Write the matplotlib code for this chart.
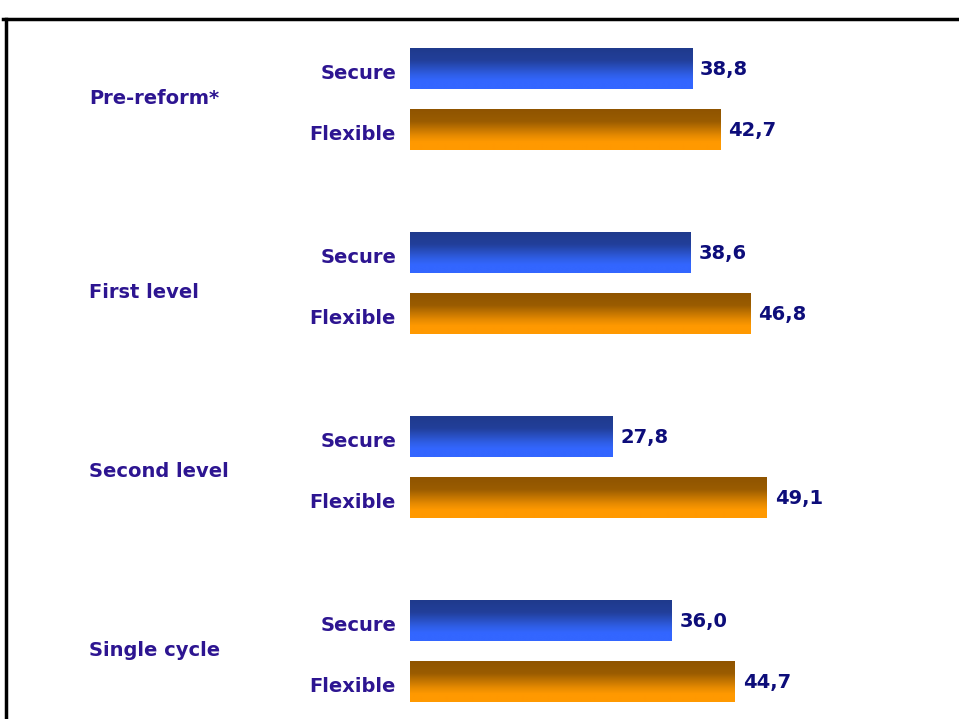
import numpy as np
import matplotlib
matplotlib.use("Agg")
import matplotlib.pyplot as plt
from matplotlib.colors import LinearSegmentedColormap
from matplotlib.transforms import blended_transform_factory
from matplotlib.lines import Line2D

categories = ["Pre-reform*", "First level", "Second level", "Single cycle"]
series = ["Secure", "Flexible"]
secure = [38.8, 38.6, 27.8, 36.0]
flexible = [42.7, 46.8, 49.1, 44.7]
value_labels_secure = ["38,8", "38,6", "27,8", "36,0"]
value_labels_flexible = ["42,7", "46,8", "49,1", "44,7"]

W, H = 959, 719
fig = plt.figure(figsize=(W / 100, H / 100), dpi=100)
fig.patch.set_facecolor("white")

ax_left = 410 / W
ax = fig.add_axes([ax_left, 0, 1 - ax_left, 1])
pitch = 61.0
top_center = 68.5
ax.axis("off")

group_step = 184.0 / pitch
bar_h = 41.0 / pitch

blue_cmap = LinearSegmentedColormap.from_list(
    "b", [(0, "#1f3a8c"), (0.3, "#223f9a"), (0.65, "#2f5ee6"), (0.8, "#3366ff"), (1, "#3366ff")])
orange_cmap = LinearSegmentedColormap.from_list(
    "o", [(0, "#8f5400"), (0.3, "#9a5c00"), (0.65, "#e68a00"), (0.8, "#ff9900"), (1, "#ff9900")])

grad = np.linspace(0, 1, 256).reshape(-1, 1)

label_color = "#2d1591"
value_color = "#0d0d7a"
tr = blended_transform_factory(fig.transFigure, ax.transData)
cat_offsets = [0.0, 0.155, 0.08, 0.0]

for i, cat in enumerate(categories):
    ys = i * group_step
    yf = ys + 1
    for y, val, lab, cmap, sname in [
        (ys, secure[i], value_labels_secure[i], blue_cmap, series[0]),
        (yf, flexible[i], value_labels_flexible[i], orange_cmap, series[1]),
    ]:
        bars = ax.barh([y], [val], height=bar_h, color="none", edgecolor="none")
        b = bars[0]
        x0, y0 = b.get_x(), b.get_y()
        w, h = b.get_width(), b.get_height()
        im = ax.imshow(grad, cmap=cmap, aspect="auto",
                       extent=[x0, x0 + w, y0 + h, y0], interpolation="bilinear", zorder=2)
        im.set_clip_path(b)
        ax.text(x0 + w + 1.1, y + 0.02, lab, ha="left", va="center", fontsize=14,
                fontweight="bold", color=value_color)
        ax.text(396 / W, y + 0.09, sname, transform=tr, ha="right", va="center",
                fontsize=14, fontweight="bold", color=label_color)
    ax.text(89 / W, (ys + yf) / 2 + cat_offsets[i], cat, transform=tr,
            ha="left", va="center", fontsize=14, fontweight="bold", color=label_color)

ax.set_xlim(0, (W - 410) / 7.27)
ax.set_ylim((H - top_center) / pitch, -top_center / pitch)

# frame lines
fig.add_artist(Line2D([3 / W, 1], [1 - 19 / H, 1 - 19 / H], color="black", lw=2.5,
                      transform=fig.transFigure))
fig.add_artist(Line2D([6 / W, 6 / W], [0, 1 - 19 / H], color="black", lw=2.5,
                      transform=fig.transFigure))

fig.savefig("out.png", dpi=100, facecolor="white")
